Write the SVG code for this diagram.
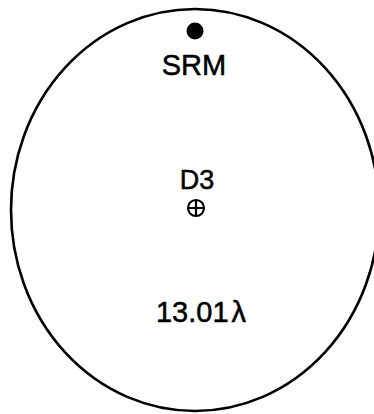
<svg xmlns="http://www.w3.org/2000/svg" width="374" height="414" viewBox="0 0 374 414">
<style>
.lbl{font-family:"Liberation Sans",Arial,sans-serif;font-size:29px;fill:#000;stroke:#000;stroke-width:0.5;text-anchor:middle}
.ln{fill:none;stroke:#000;stroke-width:2.6}
.thin{fill:none;stroke:#000;stroke-width:2.2}
</style>
<rect width="374" height="414" fill="#fff"/>
<g id="boundary">
<ellipse class="ln" cx="195" cy="210" rx="184" ry="201"/>
</g>
<g id="srm">
<circle cx="195" cy="31" r="8.5" fill="#000"/>
<text class="lbl" x="194" y="75">SRM</text>
</g>
<g id="d3">
<text class="lbl" x="197" y="189" style="font-size:27px">D3</text>
<circle class="thin" cx="196" cy="208" r="8"/>
<path class="thin" d="M188 208H204M196 200V216"/>
</g>
<g id="wavelength">
<text class="lbl" x="201" y="322">13.01<tspan dx="3">λ</tspan></text>
</g>
<g id="connectors"/>
</svg>
